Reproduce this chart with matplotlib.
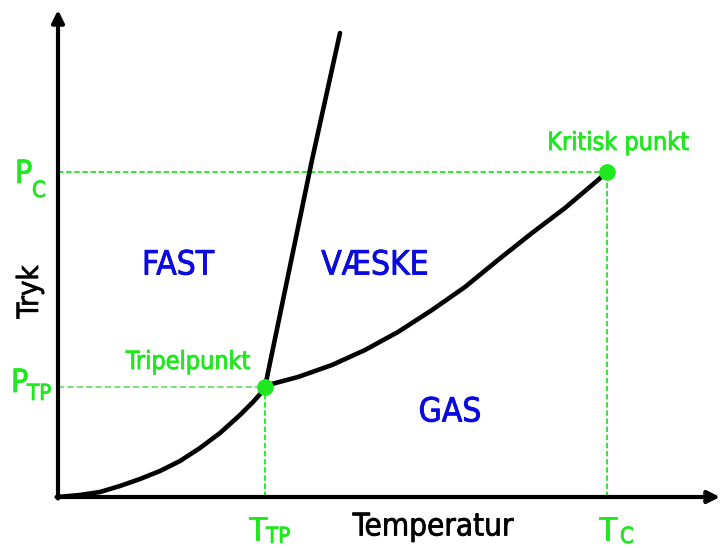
import matplotlib
matplotlib.use("Agg")
import matplotlib.pyplot as plt
import matplotlib.patheffects as pe

# ---- data (temperature / pressure in arbitrary units) ----
sub_T = [0, 22, 42, 62, 82, 102, 122, 142, 162, 182, 195, 204, 207]
sub_P = [0, 2, 5, 11, 18, 26, 36, 49, 64, 82, 95, 105, 110]

vap_T = [207, 210, 240, 274, 307, 340, 374, 407, 440, 474, 507, 540, 549]
vap_P = [110, 112, 120, 132, 147, 165, 187, 210, 237, 264, 289, 317, 325]

melt_T = [207, 254, 282]
melt_P = [110, 337, 464]

triple = (207, 110)
critical = (549, 325)

axis_T_max = 662
axis_P_max = 487

phase_labels = ["FAST", "VÆSKE", "GAS"]
green = "#1fe81f"
green_light = "#80e080"
blue = "#0a0ae0"

fig = plt.figure(figsize=(7.21, 5.48), dpi=100)
ax = fig.add_axes([0, 0, 1, 1])
ax.set_xlim(-58, 663)
ax.set_ylim(-51, 497)
ax.axis("off")

def px(x, y):
    return (x - 58, 497 - y)

def thick(color, w=0.6):
    return [pe.withStroke(linewidth=w, foreground=color)]

COND = dict(family="DejaVu Sans", fontstretch="condensed")

# reference lines
dash = (0, (3, 1.5))
ax.plot([0, critical[0]], [critical[1], critical[1]], color=green, lw=1.3, ls=dash, zorder=1)
ax.plot([critical[0], critical[0]], [0, critical[1]], color=green, lw=1.3, ls=dash, zorder=1)
ax.plot([0, triple[0]], [triple[1], triple[1]], color=green_light, lw=1.5, ls=dash, zorder=1)
ax.plot([triple[0], triple[0]], [0, triple[1]], color=green, lw=1.3, ls=dash, zorder=1)

# axes with arrows
ax.annotate("", xy=(axis_T_max, 0), xytext=(-1.5, 0),
            arrowprops=dict(arrowstyle="-|>", lw=3, color="black", mutation_scale=18,
                            shrinkA=0, shrinkB=0), zorder=3)
ax.annotate("", xy=(0, axis_P_max), xytext=(0, -1.5),
            arrowprops=dict(arrowstyle="-|>", lw=3, color="black", mutation_scale=18,
                            shrinkA=0, shrinkB=0), zorder=3)

# phase boundaries
for T, P in [(sub_T, sub_P), (vap_T, vap_P), (melt_T, melt_P)]:
    ax.plot(T, P, color="black", lw=3.3, solid_capstyle="round", solid_joinstyle="round", zorder=2)

ax.plot(*triple, "o", color=green, ms=11, zorder=4)
ax.plot(*critical, "o", color=green, ms=11, zorder=4)

fs = 24
for (x, y), lab in zip([(178, 265), (375, 265), (450, 412)], phase_labels):
    ax.text(*px(x, y), lab, color=blue, fontsize=fs, ha="center", va="center",
            path_effects=thick(blue), **COND)

ax.text(*px(618, 143), "Kritisk punkt", color=green, fontsize=18, ha="center", va="center",
        path_effects=thick(green), **COND)
ax.text(*px(188, 362), "Tripelpunkt", color=green, fontsize=18, ha="center", va="center",
        path_effects=thick(green), **COND)

ax.text(*px(433, 527), "Temperatur", color="black", fontsize=22.5, ha="center", va="center",
        path_effects=thick("black", 0.5), **COND)
ax.text(*px(30, 292), "Tryk", color="black", fontsize=21, ha="center", va="center",
        rotation=90, path_effects=thick("black", 0.5), **COND)

# symbol labels with subscripts
def sym(x, y, main, sub, sx, sy):
    ax.text(*px(x, y), main, color=green, fontsize=23, ha="left", va="baseline",
            path_effects=thick(green), **COND)
    ax.text(*px(sx, sy), sub, color=green, fontsize=16, ha="left", va="baseline",
            path_effects=thick(green), **COND)

sym(15, 183, "P", "C", 32, 197)
sym(11, 392, "P", "TP", 27, 400)
sym(249, 540, "T", "TP", 266, 543)
sym(599, 540, "T", "C", 620, 543)

fig.savefig("out.png", dpi=100)
